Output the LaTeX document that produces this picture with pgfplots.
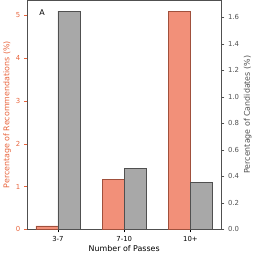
\documentclass[border=0pt]{standalone}
\usepackage{pgfplots}
\pgfplotsset{compat=1.18}
\usepackage{fontspec}
\setmainfont{DejaVu Sans}
\definecolor{barorange}{HTML}{F29079}
\definecolor{edgeorange}{HTML}{A0503C}
\definecolor{txtorange}{HTML}{E8643C}
\definecolor{bargray}{HTML}{A8A8A8}
\definecolor{edgegray}{HTML}{505050}
\definecolor{txtgray}{HTML}{505050}
\begin{document}
\begin{tikzpicture}
\pgfplotsset{
  every axis/.append style={
    scale only axis, width=191bp, height=225bp,
    xmin=-0.4667, xmax=2.4667,
    /pgf/number format/assume math mode=true,
    tick label style={font=\fontsize{6.8}{7}\selectfont},
    tick align=outside, major tick length=3pt,
    axis line style={edgegray, line width=0.5pt},
  }
}
\begin{axis}[
  ymin=0, ymax=5.355,
  axis lines=box, xtick pos=bottom, ytick pos=left,
  xtick={0,1,2}, xticklabels={3-7,7-10,10+},
  x tick style={black},
  ytick={0,1,2,3,4,5},
  y tick style={txtorange},
  y tick label style={txtorange},
  ylabel={Percentage of Recommendations (\%)},
  ylabel style={txtorange, yshift=-2pt, font=\fontsize{7.8}{8}\selectfont},
  xlabel={Number of Passes},
  xlabel style={yshift=3pt, font=\fontsize{7.8}{8}\selectfont},
  clip=false,
]
\addplot[ybar, bar width=0.3333, bar shift=0pt, fill=barorange, draw=edgeorange, line width=0.5pt]
  coordinates {(-0.16667,0.08) (0.83333,1.17) (1.83333,5.10)};
\node[anchor=north west, font=\fontsize{7.8}{8}\selectfont] at (rel axis cs:0.045,0.975) {A};
\end{axis}
\begin{axis}[
  ymin=0, ymax=1.728,
  axis y line*=right, hide x axis,
  ytick={0,0.2,0.4,0.6,0.8,1.0,1.2,1.4,1.6},
  y tick label style={txtgray, /pgf/number format/fixed, /pgf/number format/fixed zerofill, /pgf/number format/precision=1},
  y tick style={txtgray},
  ylabel={Percentage of Candidates (\%)},
  ylabel style={txtgray, yshift=2pt, font=\fontsize{7.8}{8}\selectfont},
]
\addplot[ybar, bar width=0.3333, bar shift=0pt, fill=bargray, draw=edgegray, line width=0.5pt]
  coordinates {(0.16667,1.646) (1.16667,0.459) (2.16667,0.355)};
\end{axis}
\end{tikzpicture}
\end{document}
